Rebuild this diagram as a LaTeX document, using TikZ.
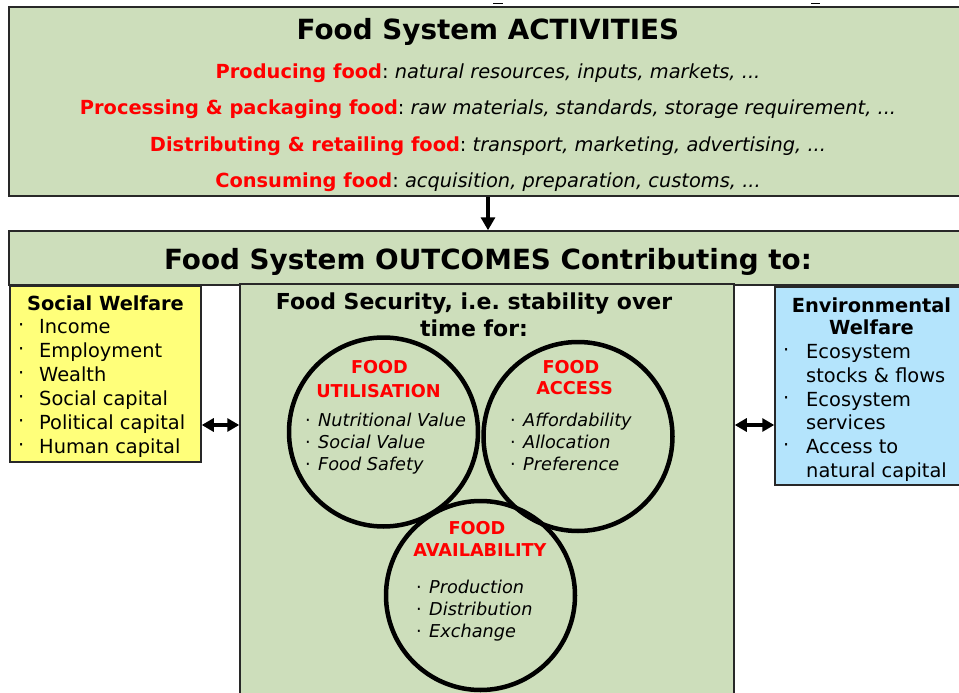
\documentclass[tikz,border=0pt]{standalone}
\usepackage{fontspec}
\setmainfont{DejaVu Sans}
\usetikzlibrary{arrows.meta}
\frenchspacing
\definecolor{fsgreen}{RGB}{205,222,187}
\definecolor{swyellow}{RGB}{255,255,122}
\definecolor{envblue}{RGB}{180,228,252}
\definecolor{edgegray}{RGB}{40,40,40}
\newcommand{\fsTitle}{\fontsize{27.8}{30}\selectfont\bfseries}
\newcommand{\fsLine}{\fontsize{19.4}{24}\selectfont}
\newcommand{\fsSub}{\fontsize{22}{27}\selectfont\bfseries}
\newcommand{\fsCirc}{\fontsize{17.7}{22}\selectfont}
\newcommand{\redb}[1]{\textcolor{red}{\textbf{#1}}}
\begin{document}
\begin{tikzpicture}[x=1pt,y=-1pt,
  box/.style={draw=edgegray, line width=1.5pt, rectangle, inner sep=0pt},
  txt/.style={inner sep=0pt, anchor=base},
  ltxt/.style={inner sep=0pt, anchor=base west},
  circ/.style={draw=black, line width=4.5pt, circle, inner sep=0pt, minimum size=189pt},
  arr/.style={line width=3.2pt, -{Triangle[length=13pt,width=14pt]}},
  darr/.style={line width=3.2pt, {Triangle[length=12pt,width=13pt]}-{Triangle[length=12pt,width=13pt]}}]
\clip (0,0) rectangle (959,693);
\fill[white] (0,0) rectangle (959,693);

% tiny marks at top
\draw[line width=1.5pt] (493,3.5) -- (503,3.5);
\draw[line width=1.5pt] (811,3.5) -- (820,3.5);

% boxes
\node[box, fill=fsgreen, minimum width=966pt, minimum height=189pt] (top) at (492,101.5) {};
\node[box, fill=fsgreen, minimum width=966pt, minimum height=54pt] (hdr) at (492,258) {};
\node[box, fill=swyellow, minimum width=191pt, minimum height=176pt] (social) at (105.5,374) {};
\node[box, fill=fsgreen, minimum width=494pt, minimum height=436pt] (fs) at (487,502) {};
\node[box, fill=envblue, minimum width=200pt, minimum height=198pt] (env) at (875,386) {};

% connectors
\coordinate (dn) at (488,0);
\coordinate (lr) at (0,425);
\draw[arr] (top.south -| dn) -- (hdr.north -| dn);
\draw[darr] (social.east |- lr) -- (fs.west |- lr);
\draw[darr] (fs.east |- lr) -- (env.west |- lr);

% activities
\node[txt, font=\fsTitle] (t0) at (488,40) {Food System ACTIVITIES};
\node[txt, font=\fsLine] (t1) at (488,78) {\redb{Producing food}: \textit{natural resources, inputs, markets, ...}};
\node[txt, font=\fsLine] (t2) at (488,114.5) {\redb{Processing \& packaging food}: \textit{raw materials, standards, storage requirement, ...}};
\node[txt, font=\fsLine] (t3) at (488,151) {\redb{Distributing \& retailing food}: \textit{transport, marketing, advertising, ...}};
\node[txt, font=\fsLine] (t4) at (488,187.5) {\redb{Consuming food}: \textit{acquisition, preparation, customs, ...}};

% outcomes
\node[txt, font=\fsTitle] (h0) at (488,269) {Food System OUTCOMES Contributing to:};

% social welfare
\node[txt, font=\fsLine\bfseries] (sw) at (105.5,310) {Social Welfare};
\foreach \t [count=\i] in {Income,Employment,Wealth,Social capital,Political capital,Human capital}{
  \node[ltxt, font=\fsLine] (sb\i) at (18,307+24*\i) {·};
  \node[ltxt, font=\fsLine] (si\i) at (39,309+24*\i) {\t};
}

% environmental welfare
\node[txt, font=\fsLine\bfseries] (ew1) at (871.5,312) {Environmental};
\node[txt, font=\fsLine\bfseries] (ew2) at (871.5,334.5) {Welfare};
\node[ltxt, font=\fsLine] (eb1) at (783,356) {·};
\node[ltxt, font=\fsLine] (eb2) at (783,404) {·};
\node[ltxt, font=\fsLine] (eb3) at (783,451) {·};
\node[ltxt, font=\fsLine] (ei1) at (806,358) {Ecosystem};
\node[ltxt, font=\fsLine] (ei2) at (806,382) {stocks \& flows};
\node[ltxt, font=\fsLine] (ei3) at (806,406) {Ecosystem};
\node[ltxt, font=\fsLine] (ei4) at (806,429.5) {services};
\node[ltxt, font=\fsLine] (ei5) at (806,453) {Access to};
\node[ltxt, font=\fsLine] (ei6) at (806,477) {natural capital};

% food security
\node[txt, font=\fsSub] (fs1) at (474,309) {Food Security, i.e. stability over};
\node[txt, font=\fsSub] (fs2) at (474,336) {time for:};

% circles
\node[circ] (util) at (383.5,432) {};
\node[circ] (acc) at (578,436.5) {};
\node[circ] (avail) at (480.5,595.5) {};

% utilisation text
\node[txt, font=\fsCirc\bfseries, text=red] (u1) at (379.5,373) {FOOD};
\node[txt, font=\fsCirc\bfseries, text=red] (u2) at (378.5,397) {UTILISATION};
\foreach \t/\y [count=\i] in {Nutritional Value/426,Social Value/448,Food Safety/470}{
  \node[ltxt, font=\fsCirc] (ub\i) at (305,\y) {·};
  \node[ltxt, font=\fsCirc\itshape] (ui\i) at (318,\y) {\t};
}

% access text
\node[txt, font=\fsCirc\bfseries, text=red] (a1) at (571,373) {FOOD};
\node[txt, font=\fsCirc\bfseries, text=red] (a2) at (574.5,394.5) {ACCESS};
\foreach \t/\y [count=\i] in {Affordability/426,Allocation/448,Preference/470}{
  \node[ltxt, font=\fsCirc] (ab\i) at (510,\y) {·};
  \node[ltxt, font=\fsCirc\itshape] (ai\i) at (523,\y) {\t};
}

% availability text
\node[txt, font=\fsCirc\bfseries, text=red] (v1) at (477,534) {FOOD};
\node[txt, font=\fsCirc\bfseries, text=red] (v2) at (480,556) {AVAILABILITY};
\foreach \t/\y [count=\i] in {Production/593,Distribution/615,Exchange/637}{
  \node[ltxt, font=\fsCirc] (vb\i) at (416,\y) {·};
  \node[ltxt, font=\fsCirc\itshape] (vi\i) at (429,\y) {\t};
}
\end{tikzpicture}
\end{document}
